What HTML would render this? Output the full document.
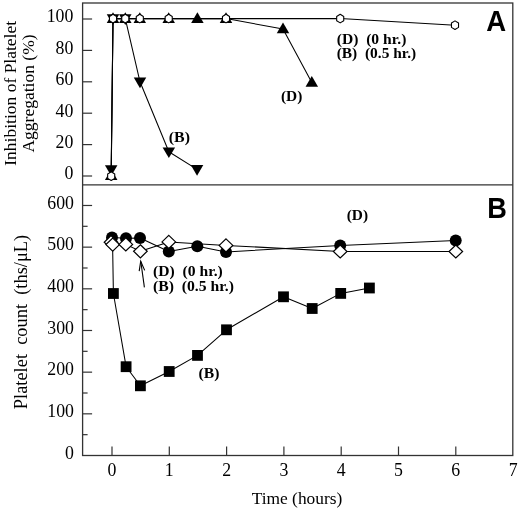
<!DOCTYPE html>
<html><head><meta charset="utf-8"><style>
html,body{margin:0;padding:0;background:#fff;}
svg{display:block;will-change:transform;}
text{fill:#000;}
</style></head><body>
<svg width="520" height="510" viewBox="0 0 520 510">
<rect width="520" height="510" fill="#fff"/>
<rect x="82.6" y="3.0" width="430.20" height="452.50" fill="none" stroke="#333" stroke-width="1.3"/>
<line x1="82.6" y1="184.8" x2="512.8" y2="184.8" stroke="#333" stroke-width="1.3"/>
<line x1="82.6" y1="176.00" x2="92.1" y2="176.00" stroke="#333" stroke-width="1.2"/>
<text x="73.4" y="179.3" font-family="&quot;Liberation Serif&quot;, serif" font-size="17.8" font-weight="normal" text-anchor="end" >0</text>
<line x1="82.6" y1="144.60" x2="92.1" y2="144.60" stroke="#333" stroke-width="1.2"/>
<text x="73.4" y="147.9" font-family="&quot;Liberation Serif&quot;, serif" font-size="17.8" font-weight="normal" text-anchor="end" >20</text>
<line x1="82.6" y1="113.20" x2="92.1" y2="113.20" stroke="#333" stroke-width="1.2"/>
<text x="73.4" y="116.5" font-family="&quot;Liberation Serif&quot;, serif" font-size="17.8" font-weight="normal" text-anchor="end" >40</text>
<line x1="82.6" y1="81.80" x2="92.1" y2="81.80" stroke="#333" stroke-width="1.2"/>
<text x="73.4" y="85.1" font-family="&quot;Liberation Serif&quot;, serif" font-size="17.8" font-weight="normal" text-anchor="end" >60</text>
<line x1="82.6" y1="50.40" x2="92.1" y2="50.40" stroke="#333" stroke-width="1.2"/>
<text x="73.4" y="53.7" font-family="&quot;Liberation Serif&quot;, serif" font-size="17.8" font-weight="normal" text-anchor="end" >80</text>
<line x1="82.6" y1="19.00" x2="92.1" y2="19.00" stroke="#333" stroke-width="1.2"/>
<text x="73.4" y="22.3" font-family="&quot;Liberation Serif&quot;, serif" font-size="17.8" font-weight="normal" text-anchor="end" >100</text>
<text x="74.0" y="458.8" font-family="&quot;Liberation Serif&quot;, serif" font-size="17.8" font-weight="normal" text-anchor="end" >0</text>
<line x1="82.6" y1="434.67" x2="87.6" y2="434.67" stroke="#333" stroke-width="1.2"/>
<line x1="82.6" y1="413.83" x2="92.1" y2="413.83" stroke="#333" stroke-width="1.2"/>
<text x="74.0" y="417.13" font-family="&quot;Liberation Serif&quot;, serif" font-size="17.8" font-weight="normal" text-anchor="end" >100</text>
<line x1="82.6" y1="393.00" x2="87.6" y2="393.00" stroke="#333" stroke-width="1.2"/>
<line x1="82.6" y1="372.16" x2="92.1" y2="372.16" stroke="#333" stroke-width="1.2"/>
<text x="74.0" y="375.46" font-family="&quot;Liberation Serif&quot;, serif" font-size="17.8" font-weight="normal" text-anchor="end" >200</text>
<line x1="82.6" y1="351.32" x2="87.6" y2="351.32" stroke="#333" stroke-width="1.2"/>
<line x1="82.6" y1="330.49" x2="92.1" y2="330.49" stroke="#333" stroke-width="1.2"/>
<text x="74.0" y="333.79" font-family="&quot;Liberation Serif&quot;, serif" font-size="17.8" font-weight="normal" text-anchor="end" >300</text>
<line x1="82.6" y1="309.65" x2="87.6" y2="309.65" stroke="#333" stroke-width="1.2"/>
<line x1="82.6" y1="288.82" x2="92.1" y2="288.82" stroke="#333" stroke-width="1.2"/>
<text x="74.0" y="292.12" font-family="&quot;Liberation Serif&quot;, serif" font-size="17.8" font-weight="normal" text-anchor="end" >400</text>
<line x1="82.6" y1="267.99" x2="87.6" y2="267.99" stroke="#333" stroke-width="1.2"/>
<line x1="82.6" y1="247.15" x2="92.1" y2="247.15" stroke="#333" stroke-width="1.2"/>
<text x="74.0" y="250.45" font-family="&quot;Liberation Serif&quot;, serif" font-size="17.8" font-weight="normal" text-anchor="end" >500</text>
<line x1="82.6" y1="226.31" x2="87.6" y2="226.31" stroke="#333" stroke-width="1.2"/>
<line x1="82.6" y1="205.48" x2="92.1" y2="205.48" stroke="#333" stroke-width="1.2"/>
<text x="74.0" y="208.78" font-family="&quot;Liberation Serif&quot;, serif" font-size="17.8" font-weight="normal" text-anchor="end" >600</text>
<line x1="112.00" y1="455.5" x2="112.00" y2="446.5" stroke="#333" stroke-width="1.2"/>
<text x="112.00" y="476.3" font-family="&quot;Liberation Serif&quot;, serif" font-size="17.8" font-weight="normal" text-anchor="middle" >0</text>
<line x1="169.30" y1="455.5" x2="169.30" y2="446.5" stroke="#333" stroke-width="1.2"/>
<text x="169.30" y="476.3" font-family="&quot;Liberation Serif&quot;, serif" font-size="17.8" font-weight="normal" text-anchor="middle" >1</text>
<line x1="226.60" y1="455.5" x2="226.60" y2="446.5" stroke="#333" stroke-width="1.2"/>
<text x="226.60" y="476.3" font-family="&quot;Liberation Serif&quot;, serif" font-size="17.8" font-weight="normal" text-anchor="middle" >2</text>
<line x1="283.90" y1="455.5" x2="283.90" y2="446.5" stroke="#333" stroke-width="1.2"/>
<text x="283.90" y="476.3" font-family="&quot;Liberation Serif&quot;, serif" font-size="17.8" font-weight="normal" text-anchor="middle" >3</text>
<line x1="341.20" y1="455.5" x2="341.20" y2="446.5" stroke="#333" stroke-width="1.2"/>
<text x="341.20" y="476.3" font-family="&quot;Liberation Serif&quot;, serif" font-size="17.8" font-weight="normal" text-anchor="middle" >4</text>
<line x1="398.50" y1="455.5" x2="398.50" y2="446.5" stroke="#333" stroke-width="1.2"/>
<text x="398.50" y="476.3" font-family="&quot;Liberation Serif&quot;, serif" font-size="17.8" font-weight="normal" text-anchor="middle" >5</text>
<line x1="455.80" y1="455.5" x2="455.80" y2="446.5" stroke="#333" stroke-width="1.2"/>
<text x="455.80" y="476.3" font-family="&quot;Liberation Serif&quot;, serif" font-size="17.8" font-weight="normal" text-anchor="middle" >6</text>
<text x="513.10" y="476.3" font-family="&quot;Liberation Serif&quot;, serif" font-size="17.8" font-weight="normal" text-anchor="middle" >7</text>
<text x="297" y="504.3" font-family="&quot;Liberation Serif&quot;, serif" font-size="17.4" font-weight="normal" text-anchor="middle" >Time (hours)</text>
<text x="0" y="0" font-family="&quot;Liberation Serif&quot;, serif" font-size="17.5" font-weight="normal" text-anchor="middle" transform="translate(16.0,93.3) rotate(-90)">Inhibition of Platelet</text>
<text x="0" y="0" font-family="&quot;Liberation Serif&quot;, serif" font-size="17.5" font-weight="normal" text-anchor="middle" transform="translate(34.0,93.5) rotate(-90)">Aggregation (%)</text>
<text x="0" y="0" font-family="&quot;Liberation Serif&quot;, serif" font-size="18.4" font-weight="normal" text-anchor="middle" transform="translate(27.0,322) rotate(-90)">Platelet&#160; count&#160; (ths/&#956;L)</text>
<text x="486.2" y="30.8" font-family="&quot;Liberation Sans&quot;, serif" font-size="29.6" font-weight="bold" text-anchor="start"  textLength="19.9" lengthAdjust="spacingAndGlyphs">A</text>
<text x="487.3" y="218.3" font-family="&quot;Liberation Sans&quot;, serif" font-size="29.6" font-weight="bold" text-anchor="start"  textLength="19.6" lengthAdjust="spacingAndGlyphs">B</text>
<text x="336.7" y="44.4" font-family="&quot;Liberation Serif&quot;, serif" font-size="14.5" font-weight="bold" text-anchor="start"  textLength="69.7" lengthAdjust="spacingAndGlyphs">(D)&#160; (0 hr.)</text>
<text x="336.7" y="58.3" font-family="&quot;Liberation Serif&quot;, serif" font-size="14.5" font-weight="bold" text-anchor="start"  textLength="79.5" lengthAdjust="spacingAndGlyphs">(B)&#160; (0.5 hr.)</text>
<text x="280.9" y="100.7" font-family="&quot;Liberation Serif&quot;, serif" font-size="14.5" font-weight="bold" text-anchor="start"  textLength="21.4" lengthAdjust="spacingAndGlyphs">(D)</text>
<text x="168.8" y="142.0" font-family="&quot;Liberation Serif&quot;, serif" font-size="14.5" font-weight="bold" text-anchor="start"  textLength="21.2" lengthAdjust="spacingAndGlyphs">(B)</text>
<text x="346.7" y="220.2" font-family="&quot;Liberation Serif&quot;, serif" font-size="14.5" font-weight="bold" text-anchor="start"  textLength="21.4" lengthAdjust="spacingAndGlyphs">(D)</text>
<text x="153.0" y="276.3" font-family="&quot;Liberation Serif&quot;, serif" font-size="14.5" font-weight="bold" text-anchor="start"  textLength="69.8" lengthAdjust="spacingAndGlyphs">(D)&#160; (0 hr.)</text>
<text x="153.0" y="291.1" font-family="&quot;Liberation Serif&quot;, serif" font-size="14.5" font-weight="bold" text-anchor="start"  textLength="81.0" lengthAdjust="spacingAndGlyphs">(B)&#160; (0.5 hr.)</text>
<text x="198.5" y="378.3" font-family="&quot;Liberation Serif&quot;, serif" font-size="14.5" font-weight="bold" text-anchor="start"  textLength="20.9" lengthAdjust="spacingAndGlyphs">(B)</text>
<line x1="144.4" y1="287.3" x2="140.8" y2="261.5" stroke="#000" stroke-width="1.1"/>
<polyline points="139.2,271.2 140.7,261.3 144.7,270.4" fill="none" stroke="#000" stroke-width="1.1"/>
<polyline points="111.20,169.50 113.00,18.60 125.30,18.60 140.00,81.80 168.85,151.70 197.05,169.40" fill="none" stroke="#000" stroke-width="1.05" stroke-linejoin="round"/>
<polyline points="111.20,175.60 113.00,18.60 125.30,18.60 139.80,18.60 168.70,18.60 197.40,18.60 226.00,18.60 283.00,28.90 311.80,82.50" fill="none" stroke="#000" stroke-width="1.05" stroke-linejoin="round"/>
<polyline points="111.20,176.20 113.00,18.60 125.30,18.60 139.80,18.60 168.70,18.60 226.00,18.60 340.20,18.60 455.00,25.20" fill="none" stroke="#000" stroke-width="1.05" stroke-linejoin="round"/>
<polygon points="111.20,175.92 104.95,165.22 117.45,165.22" fill="#000"/>
<polygon points="113.00,25.02 106.75,14.32 119.25,14.32" fill="#000"/>
<polygon points="125.30,25.02 119.05,14.32 131.55,14.32" fill="#000"/>
<polygon points="140.00,88.22 133.75,77.52 146.25,77.52" fill="#000"/>
<polygon points="168.85,158.12 162.60,147.42 175.10,147.42" fill="#000"/>
<polygon points="197.05,175.82 190.80,165.12 203.30,165.12" fill="#000"/>
<polygon points="111.20,169.18 104.95,179.88 117.45,179.88" fill="#000"/>
<polygon points="113.00,12.18 106.75,22.88 119.25,22.88" fill="#000"/>
<polygon points="125.30,12.18 119.05,22.88 131.55,22.88" fill="#000"/>
<polygon points="139.80,12.18 133.55,22.88 146.05,22.88" fill="#000"/>
<polygon points="168.70,12.18 162.45,22.88 174.95,22.88" fill="#000"/>
<polygon points="197.40,12.18 191.15,22.88 203.65,22.88" fill="#000"/>
<polygon points="226.00,12.18 219.75,22.88 232.25,22.88" fill="#000"/>
<polygon points="283.00,22.48 276.75,33.18 289.25,33.18" fill="#000"/>
<polygon points="311.80,76.08 305.55,86.78 318.05,86.78" fill="#000"/>
<polygon points="111.20,171.90 107.66,174.05 107.66,178.35 111.20,180.50 114.74,178.35 114.74,174.05" fill="#fff" stroke="#000" stroke-width="1.1" stroke-linejoin="round"/>
<polygon points="113.00,14.30 109.46,16.45 109.46,20.75 113.00,22.90 116.54,20.75 116.54,16.45" fill="#fff" stroke="#000" stroke-width="1.1" stroke-linejoin="round"/>
<polygon points="125.30,14.30 121.76,16.45 121.76,20.75 125.30,22.90 128.84,20.75 128.84,16.45" fill="#fff" stroke="#000" stroke-width="1.1" stroke-linejoin="round"/>
<polygon points="139.80,14.30 136.26,16.45 136.26,20.75 139.80,22.90 143.34,20.75 143.34,16.45" fill="#fff" stroke="#000" stroke-width="1.1" stroke-linejoin="round"/>
<polygon points="168.70,14.30 165.16,16.45 165.16,20.75 168.70,22.90 172.24,20.75 172.24,16.45" fill="#fff" stroke="#000" stroke-width="1.1" stroke-linejoin="round"/>
<polygon points="226.00,14.30 222.46,16.45 222.46,20.75 226.00,22.90 229.54,20.75 229.54,16.45" fill="#fff" stroke="#000" stroke-width="1.1" stroke-linejoin="round"/>
<polygon points="340.20,14.30 336.66,16.45 336.66,20.75 340.20,22.90 343.74,20.75 343.74,16.45" fill="#fff" stroke="#000" stroke-width="1.1" stroke-linejoin="round"/>
<polygon points="455.00,20.90 451.46,23.05 451.46,27.35 455.00,29.50 458.54,27.35 458.54,23.05" fill="#fff" stroke="#000" stroke-width="1.1" stroke-linejoin="round"/>
<polyline points="112.60,245.00 113.40,293.50 126.10,366.70 140.40,385.80 169.20,371.50 197.50,355.40 226.50,329.80 283.50,296.80 312.20,308.50 340.70,293.40 369.40,288.00" fill="none" stroke="#000" stroke-width="1.05" stroke-linejoin="round"/>
<polyline points="112.00,237.60 126.00,238.20 140.00,238.00 168.80,251.50 197.30,246.20 226.00,251.90 340.20,245.40 455.70,240.60" fill="none" stroke="#000" stroke-width="1.05" stroke-linejoin="round"/>
<polyline points="112.70,244.60 125.80,244.40 140.40,251.30 168.80,241.90 226.00,245.40 340.20,251.50 455.80,251.50" fill="none" stroke="#000" stroke-width="1.05" stroke-linejoin="round"/>
<rect x="108.00" y="288.10" width="10.8" height="10.8" fill="#000"/>
<rect x="120.70" y="361.30" width="10.8" height="10.8" fill="#000"/>
<rect x="135.00" y="380.40" width="10.8" height="10.8" fill="#000"/>
<rect x="163.80" y="366.10" width="10.8" height="10.8" fill="#000"/>
<rect x="192.10" y="350.00" width="10.8" height="10.8" fill="#000"/>
<rect x="221.10" y="324.40" width="10.8" height="10.8" fill="#000"/>
<rect x="278.10" y="291.40" width="10.8" height="10.8" fill="#000"/>
<rect x="306.80" y="303.10" width="10.8" height="10.8" fill="#000"/>
<rect x="335.30" y="288.00" width="10.8" height="10.8" fill="#000"/>
<rect x="364.00" y="282.60" width="10.8" height="10.8" fill="#000"/>
<circle cx="112.00" cy="237.60" r="6.0" fill="#000"/>
<circle cx="126.00" cy="238.20" r="6.0" fill="#000"/>
<circle cx="140.00" cy="238.00" r="6.0" fill="#000"/>
<circle cx="168.80" cy="251.50" r="6.0" fill="#000"/>
<circle cx="197.30" cy="246.20" r="6.0" fill="#000"/>
<circle cx="226.00" cy="251.90" r="6.0" fill="#000"/>
<circle cx="340.20" cy="245.40" r="6.0" fill="#000"/>
<circle cx="455.70" cy="240.60" r="6.0" fill="#000"/>
<polygon points="111.00,235.67 117.80,242.20 111.00,248.73 104.20,242.20" fill="#fff" stroke="#000" stroke-width="1.2"/>
<polygon points="112.70,238.07 119.50,244.60 112.70,251.13 105.90,244.60" fill="#fff" stroke="#000" stroke-width="1.2"/>
<polygon points="125.80,237.87 132.60,244.40 125.80,250.93 119.00,244.40" fill="#fff" stroke="#000" stroke-width="1.2"/>
<polygon points="140.40,244.77 147.20,251.30 140.40,257.83 133.60,251.30" fill="#fff" stroke="#000" stroke-width="1.2"/>
<polygon points="168.80,235.37 175.60,241.90 168.80,248.43 162.00,241.90" fill="#fff" stroke="#000" stroke-width="1.2"/>
<polygon points="226.00,238.87 232.80,245.40 226.00,251.93 219.20,245.40" fill="#fff" stroke="#000" stroke-width="1.2"/>
<polygon points="340.20,244.97 347.00,251.50 340.20,258.03 333.40,251.50" fill="#fff" stroke="#000" stroke-width="1.2"/>
<polygon points="455.80,244.97 462.60,251.50 455.80,258.03 449.00,251.50" fill="#fff" stroke="#000" stroke-width="1.2"/>
</svg>
</body></html>
